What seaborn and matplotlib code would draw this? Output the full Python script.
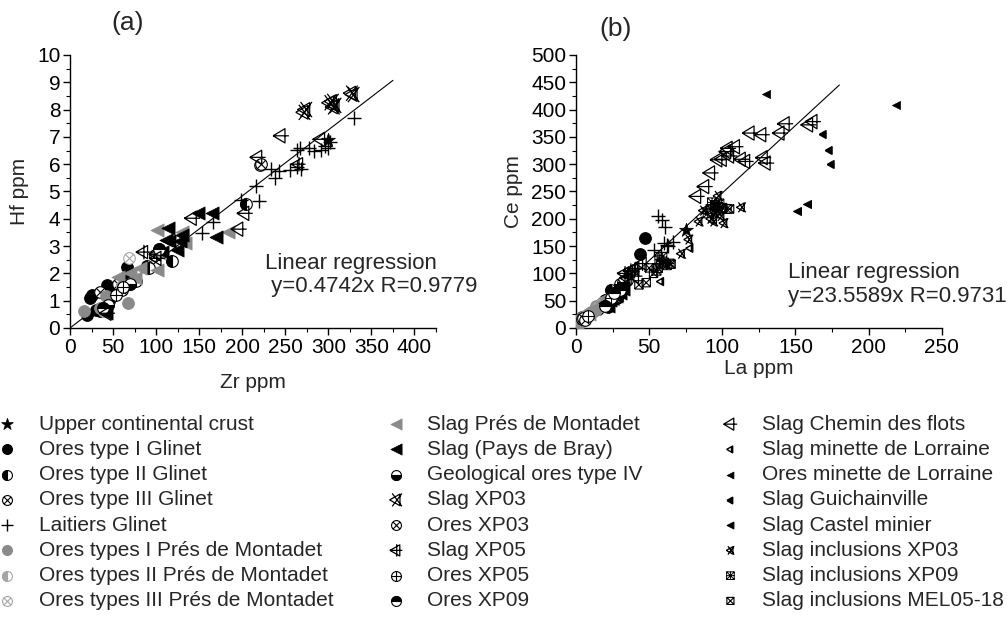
import numpy as np
import matplotlib
matplotlib.use('Agg')
import matplotlib.pyplot as plt
import seaborn as sns
from matplotlib.path import Path
from matplotlib.transforms import Affine2D
from matplotlib.ticker import MultipleLocator
from matplotlib.legend_handler import HandlerTuple

# ---- data: (a) Zr vs Hf, (b) La vs Ce ----
ucc_zr = [300]
ucc_hf = [6.9]
ucc_la = [75]
ucc_ce = [180]

g1_zr = [20, 23, 25, 43, 66, 50, 68, 30, 58, 45, 35]
g1_hf = [0.49, 1.1, 1.2, 1.59, 2.22, 1.28, 1.8, 0.67, 1.7, 1.0, 0.62]
g1_la = [44, 47, 18, 20, 22, 25, 28, 4, 6]
g1_ce = [136, 165, 45, 52, 38, 60, 55, 20, 18]

g2_zr = [118, 204, 77, 89, 92, 62]
g2_hf = [2.44, 4.55, 1.71, 2.26, 2.2, 1.5]
g2_la = [30, 33, 26, 35, 24]
g2_ce = [75, 82, 62, 88, 70]

g3_zr = [99, 56, 35, 221]
g3_hf = [2.68, 1.62, 1.32, 5.98]
g3_la = [22, 28, 15]
g3_ce = [50, 65, 35]

lait_zr = [330, 263, 267, 277, 283, 291, 296, 233, 238, 243, 256, 264, 268, 216, 220, 153, 166, 198, 302, 300]
lait_hf = [7.68, 6.52, 6.58, 6.6, 6.48, 6.52, 6.67, 5.82, 5.48, 5.76, 5.79, 5.91, 5.81, 5.21, 4.65, 3.47, 3.9, 4.69, 6.8, 6.6]
lait_la = [56, 59, 61, 53, 62, 66, 63, 60, 58, 38, 42, 30, 35]
lait_ce = [206, 198, 185, 143, 152, 158, 150, 155, 140, 105, 110, 75, 90]

pm1_zr = [16, 67, 42, 35]
pm1_hf = [0.61, 0.91, 1.16, 0.72]
pm1_la = [2, 4, 6, 8, 3, 10, 12, 5, 14]
pm1_ce = [15, 18, 22, 25, 10, 30, 32, 20, 40]

pm2_zr = [40, 60]
pm2_hf = [0.62, 1.55]
pm2_la = [15, 18]
pm2_ce = [38, 45]

pm3_zr = [68]
pm3_hf = [2.56]
pm3_la = [7]
pm3_ce = [20]

slpm_zr = [101, 134, 184, 101, 81, 56, 76, 103, 130, 70, 62]
slpm_hf = [3.6, 3.12, 3.53, 2.13, 2.2, 1.88, 1.82, 2.74, 3.5, 2.0, 1.6]
slpm_la = [12, 15, 18, 20, 25, 9]
slpm_ce = [35, 40, 48, 55, 60, 26]

bray_zr = [149, 165, 114, 111, 130, 124, 169, 107, 42, 128, 115]
bray_hf = [4.22, 4.2, 3.65, 3.22, 3.42, 2.85, 3.35, 2.8, 0.54, 3.2, 3.2]
bray_la = [20, 23, 27, 30, 22, 32]
bray_ce = [45, 52, 58, 65, 40, 72]

geo4_zr = [44, 70]
geo4_hf = [0.85, 1.6]
geo4_la = [30, 32]
geo4_ce = [80, 85]

sxp03_zr = [271, 273, 301, 304, 305, 307, 326, 328]
sxp03_hf = [7.9, 8.0, 8.25, 8.3, 8.1, 8.15, 8.6, 8.55]
sxp03_la = [25, 28, 32]
sxp03_ce = [55, 62, 75]

oxp03_zr = [222, 60]
oxp03_hf = [6.0, 1.4]
oxp03_la = [4, 5, 6]
oxp03_ce = [16, 18, 14]

sxp05_zr = [85, 100, 265]
sxp05_hf = [2.78, 2.7, 6.0]
sxp05_la = [33, 37, 40, 45]
sxp05_ce = [100, 105, 108, 118]

oxp05_zr = [54, 61]
oxp05_hf = [1.2, 1.5]
oxp05_la = [8, 24]
oxp05_ce = [22, 55]

oxp09_zr = [103, 38]
oxp09_hf = [2.9, 0.75]
oxp09_la = [30, 26, 20]
oxp09_ce = [70, 65, 40]

chem_zr = [245, 218, 291, 203, 196, 142, 43, 101]
chem_hf = [7.04, 6.25, 6.91, 4.2, 3.62, 4.02, 0.54, 2.55]
chem_la = [82.5, 88, 92, 97, 100, 103, 104, 105, 109, 113, 116, 119, 127, 130, 139.5, 143, 159, 162, 35, 40, 128]
chem_ce = [241, 259, 284, 308, 309, 323, 329, 315, 332, 309, 305, 357, 354, 302, 357, 374, 372, 378, 92, 95, 312]

sminl_la = [58, 78]
sminl_ce = [85, 146]

ominl_la = [130, 219]
ominl_ce = [429, 408]

guich_la = [169, 173, 174]
guich_ce = [356, 326, 300]

castel_la = [151, 158]
castel_ce = [215, 227]

inc03_la = [97, 87, 84, 94, 101, 113, 77, 72, 95, 92, 99]
inc03_ce = [242, 215, 195, 195, 192, 221, 162, 136, 210, 200, 205]

inc09_la = [92, 95, 98, 100, 103, 96, 90, 56, 58, 60, 62, 64, 55, 57, 59, 93, 97]
inc09_ce = [218, 225, 228, 220, 218, 215, 210, 110, 118, 120, 115, 118, 105, 125, 130, 230, 222]

mel_la = [43, 48, 50, 53, 105, 65]
mel_ce = [79, 83, 110, 100, 218, 117]

# regression lines (end points)
reg_a_x = [0, 375]
reg_a_y = [0, 9.07]
reg_b_x = [0, 180]
reg_b_y = [0, 445]

reg_a_text = 'Linear regression\n y=0.4742x R=0.9779'
reg_b_text = 'Linear regression\ny=23.5589x R=0.9731'


# ---- marker shapes ----
def lines_path(segs):
    verts, codes = [], []
    for seg in segs:
        verts.extend(seg)
        codes.extend([Path.MOVETO] + [Path.LINETO] * (len(seg) - 1))
    return Path(verts, codes)


tri = [(-1, 0), (0.6, 0.9), (0.6, -0.9), (-1, 0)]
xcross = [[(-0.7, -0.7), (0.7, 0.7)], [(-0.7, 0.7), (0.7, -0.7)]]
pcross = [[(-1, 0), (1, 0)], [(0, -1), (0, 1)]]
sq = [(-0.8, -0.8), (0.8, -0.8), (0.8, 0.8), (-0.8, 0.8), (-0.8, -0.8)]

m_otimes = Path.make_compound_path(Path.unit_circle(), lines_path(xcross))
m_oplus = Path.make_compound_path(Path.unit_circle(), lines_path(pcross))
m_xp03 = lines_path([tri, [(-0.6, 1), (0.9, -1)], [(-0.6, -1), (0.9, 1)]])
m_xp05 = lines_path([tri, [(-1, 0), (1, 0)], [(0.1, -1), (0.1, 1)]])
m_chem = lines_path([[(-1, 0), (0.5, 0.9), (0.5, -0.9), (-1, 0)], [(-1, 0), (1, 0)]])
m_sqx = lines_path([sq] + [[(-0.8, -0.8), (0.8, 0.8)], [(-0.8, 0.8), (0.8, -0.8)]])
m_sqxx = lines_path([sq] + [[(-0.8, -0.8), (0.8, 0.8)], [(-0.8, 0.8), (0.8, -0.8)],
                            [(-0.8, 0), (0.8, 0)], [(0, -0.8), (0, 0.8)]])
m_smtri = lines_path([tri, [(0.3, -0.75), (0.3, 0.75)]])


def half_disk(angle):
    return Path.unit_circle_righthalf().transformed(Affine2D().rotate_deg(angle))


K = '#000000'
G = '#8a8a8a'
LG = '#a6a6a6'

# label, (a) data, (b) data, marker, size, face, edge, line width, half-fill angle
groups = [
    ('Upper continental crust', ucc_zr, ucc_hf, ucc_la, ucc_ce, '*', 110, K, K, 0.5, None),
    ('Ores type I Glinet', g1_zr, g1_hf, g1_la, g1_ce, 'o', 70, K, K, 0.8, None),
    ('Ores type II Glinet', g2_zr, g2_hf, g2_la, g2_ce, 'o', 70, 'white', K, 0.8, 180),
    ('Ores type III Glinet', g3_zr, g3_hf, g3_la, g3_ce, m_otimes, 70, 'white', K, 0.8, None),
    ('Laitiers Glinet', lait_zr, lait_hf, lait_la, lait_ce, '+', 90, K, K, 1.0, None),
    ('Ores types I Prés de Montadet', pm1_zr, pm1_hf, pm1_la, pm1_ce, 'o', 70, G, G, 0.8, None),
    ('Ores types II Prés de Montadet', pm2_zr, pm2_hf, pm2_la, pm2_ce, 'o', 70, 'white', LG, 0.8, 180),
    ('Ores types III Prés de Montadet', pm3_zr, pm3_hf, pm3_la, pm3_ce, m_otimes, 70, 'white', LG, 0.8, None),
    ('Slag Prés de Montadet', slpm_zr, slpm_hf, slpm_la, slpm_ce, '<', 90, G, G, 0.5, None),
    ('Slag (Pays de Bray)', bray_zr, bray_hf, bray_la, bray_ce, '<', 90, K, K, 0.5, None),
    ('Geological ores type IV', geo4_zr, geo4_hf, geo4_la, geo4_ce, 'o', 70, 'white', K, 0.8, -90),
    ('Slag XP03', sxp03_zr, sxp03_hf, sxp03_la, sxp03_ce, m_xp03, 120, 'none', K, 0.9, None),
    ('Ores XP03', oxp03_zr, oxp03_hf, oxp03_la, oxp03_ce, m_otimes, 70, 'white', K, 0.8, None),
    ('Slag XP05', sxp05_zr, sxp05_hf, sxp05_la, sxp05_ce, m_xp05, 110, 'none', K, 0.9, None),
    ('Ores XP05', oxp05_zr, oxp05_hf, oxp05_la, oxp05_ce, m_oplus, 70, 'white', K, 0.8, None),
    ('Ores XP09', oxp09_zr, oxp09_hf, oxp09_la, oxp09_ce, 'o', 70, 'white', K, 0.8, 90),
    ('Slag Chemin des flots', chem_zr, chem_hf, chem_la, chem_ce, m_chem, 130, 'none', K, 0.9, None),
    ('Slag minette de Lorraine', [], [], sminl_la, sminl_ce, m_smtri, 40, 'none', K, 1.0, None),
    ('Ores minette de Lorraine', [], [], ominl_la, ominl_ce, '<', 34, K, K, 0.5, None),
    ('Slag Guichainville', [], [], guich_la, guich_ce, m_smtri, 34, K, K, 1.2, None),
    ('Slag Castel minier', [], [], castel_la, castel_ce, '<', 32, K, K, 0.8, None),
    ('Slag inclusions XP03', [], [], inc03_la, inc03_ce, m_xp03, 50, 'none', K, 0.9, None),
    ('Slag inclusions XP09', [], [], inc09_la, inc09_ce, m_sqxx, 42, 'none', K, 0.7, None),
    ('Slag inclusions MEL05-18', [], [], mel_la, mel_ce, m_sqx, 36, 'none', K, 0.8, None),
]

sns.set_style('ticks')
plt.rcParams['font.family'] = ['Liberation Sans', 'DejaVu Sans']

fig = plt.figure(figsize=(10.07, 6.17), dpi=100)
ax_a = fig.add_axes([0.0695, 0.4684, 0.3635, 0.4425])
ax_b = fig.add_axes([0.572, 0.4684, 0.3632, 0.4425])


def draw(ax, x, y, marker, s, face, edge, lw, half):
    if len(x) == 0:
        return None
    sns.scatterplot(x=x, y=y, ax=ax, marker=marker, s=s, color=face,
                    facecolor=face, edgecolor=edge, linewidth=lw, zorder=3)
    h = ax.collections[-1]
    if half is None:
        return h
    sns.scatterplot(x=x, y=y, ax=ax, marker=half_disk(half), s=s, color=edge,
                    facecolor=edge, edgecolor=edge, linewidth=lw, zorder=3)
    return (h, ax.collections[-1])


handles, labels = [], []
for lab, zx, zy, lx, ly, mk, s, face, edge, lw, half in groups:
    ha = draw(ax_a, zx, zy, mk, s, face, edge, lw, half)
    hb = draw(ax_b, lx, ly, mk, s, face, edge, lw, half)
    handles.append(ha if ha is not None else hb)
    labels.append(lab)

sns.lineplot(x=reg_a_x, y=reg_a_y, ax=ax_a, color='black', linewidth=0.8, zorder=1)
sns.lineplot(x=reg_b_x, y=reg_b_y, ax=ax_b, color='black', linewidth=0.8, zorder=1)

ax_a.set_xlim(0, 425)
ax_a.set_ylim(0, 10)
ax_a.xaxis.set_major_locator(MultipleLocator(50))
ax_a.xaxis.set_minor_locator(MultipleLocator(25))
ax_a.yaxis.set_major_locator(MultipleLocator(1))
ax_a.yaxis.set_minor_locator(MultipleLocator(0.5))
ax_a.set_xlabel('Zr ppm', fontsize=15, labelpad=12)
ax_a.set_ylabel('Hf ppm', fontsize=15, labelpad=6)

ax_b.set_xlim(0, 250)
ax_b.set_ylim(0, 500)
ax_b.xaxis.set_major_locator(MultipleLocator(50))
ax_b.xaxis.set_minor_locator(MultipleLocator(25))
ax_b.yaxis.set_major_locator(MultipleLocator(50))
ax_b.yaxis.set_minor_locator(MultipleLocator(25))
ax_b.set_xlabel('La ppm', fontsize=15, labelpad=2)
ax_b.set_ylabel('Ce ppm', fontsize=15, labelpad=6)

for ax in (ax_a, ax_b):
    sns.despine(ax=ax)
    for sp in ('left', 'bottom'):
        ax.spines[sp].set_linewidth(1.0)
        ax.spines[sp].set_color('black')
    ax.tick_params(which='major', direction='out', length=5, width=1.0,
                   labelsize=15, colors='black', pad=2)
    ax.tick_params(which='minor', direction='out', length=3, width=0.8, colors='black')

ax_a.text(0.533, 0.194, reg_a_text, transform=ax_a.transAxes, fontsize=16,
          ha='left', va='center', linespacing=1.15, clip_on=False)
ax_b.text(0.58, 0.159, reg_b_text, transform=ax_b.transAxes, fontsize=16,
          ha='left', va='center', linespacing=1.15, clip_on=False)

fig.text(0.127, 0.963, '(a)', fontsize=19, ha='center', va='center')
fig.text(0.611, 0.953, '(b)', fontsize=19, ha='center', va='center')

col_x = [-0.003, 0.383, 0.715]
for i in range(3):
    fig.legend(handles[i * 8:(i + 1) * 8], labels[i * 8:(i + 1) * 8],
               loc='upper left', bbox_to_anchor=(col_x[i], 0.328),
               frameon=False, fontsize=15, markerscale=0.85,
               handlelength=1.0, handletextpad=1.0, borderpad=0,
               borderaxespad=0, labelspacing=0.3,
               handler_map={tuple: HandlerTuple(ndivide=1)})

fig.savefig('out.png', dpi=100)
